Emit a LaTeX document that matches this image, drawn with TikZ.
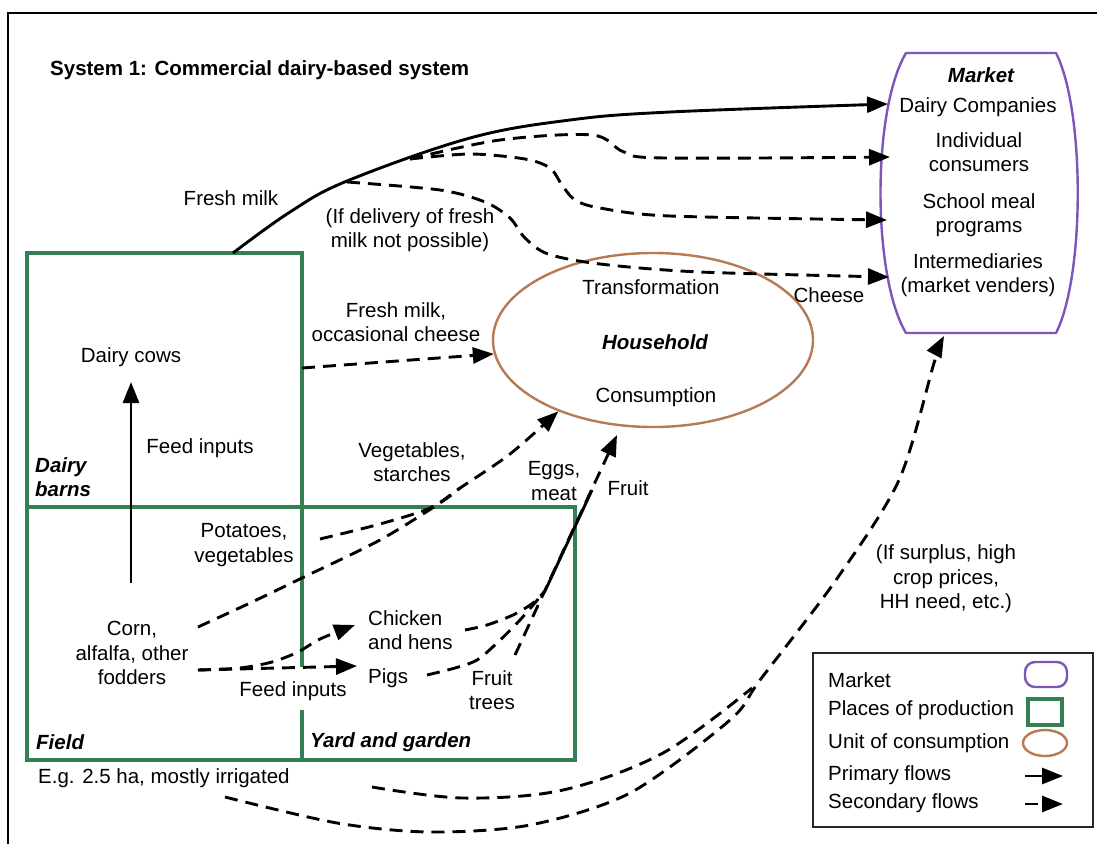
\documentclass[tikz,border=0pt]{standalone}
\usepackage{fontspec}
\setmainfont{Liberation Sans}
\usetikzlibrary{arrows.meta,shapes.geometric}
\definecolor{prodgreen}{RGB}{52,128,82}
\definecolor{mktpurple}{RGB}{124,86,184}
\definecolor{hhbrown}{RGB}{184,122,84}

\begin{document}
\begin{tikzpicture}[x=1pt,y=-1pt,
  every node/.style={font=\fontsize{20.5}{24.5}\selectfont, inner sep=0pt, align=center},
  bi/.style={font=\fontsize{20.5}{24.5}\selectfont\bfseries\itshape},
  tip/.style={-{Triangle[length=21pt,width=16pt]}},
  flowline/.style={line width=2.9pt},
  primary/.style={flowline, tip},
  secline/.style={flowline, dash pattern=on 13pt off 8pt},
  secondary/.style={secline, tip},
  prod/.style={draw=prodgreen, line width=3.6pt, line join=miter},
  mkt/.style={draw=mktpurple, line width=2.4pt, line cap=round, line join=round},
  hhstyle/.style={draw=hhbrown, line width=2.4pt}
]
\useasboundingbox (0,0) rectangle (1097,844);
\fill[white] (0,0) rectangle (1097,844);

% outer frame
\draw[line width=1.8pt] (8,844) -- (8,13) -- (1097,13);

% title
\node[anchor=west, font=\fontsize{20.5}{24.5}\selectfont\bfseries] (title) at (50,70)
  {System 1: Commercial dairy-based system};

% ---------------- market ----------------
\draw[mkt] (906,53) -- (1056,53) .. controls (1085,110) and (1085,276) .. (1056,333)
  -- (906,333) .. controls (872,276) and (872,110) .. (906,53);
\node[bi] (mkttitle) at (981,75) {Market};
\node (dairyco) at (978,107) {Dairy Companies};
\node (indiv) at (979,152) {Individual\\consumers};
\node (school) at (979,215) {School meal\\programs};
\node (inter) at (978,275) {Intermediaries\\(market venders)};
\coordinate (mk-dairy) at (888,104);
\coordinate (mk-indiv) at (890,157);
\coordinate (mk-school) at (887,220);
\coordinate (mk-inter) at (889,277);
\coordinate (mk-bottom) at (944,336);

% ---------------- household ----------------
\node[ellipse, hhstyle, minimum width=320pt, minimum height=174pt] (hh) at (653,340) {};
\node (transf) at (651,287) {Transformation};
\node[bi] (hhname) at (655,342) {Household};
\node (consum) at (656,397) {Consumption};
\coordinate (hh-fruit) at (617,435);

% ---------------- places of production ----------------
\draw[prod] (27,507) -- (27,253) -- (302,253) -- (302,667);
\draw[prod] (302,710) -- (302,760);
\draw[prod] (27,507) rectangle (575,760);

\node[bi, anchor=west, align=left] (barns) at (35,477) {Dairy\\barns};
\node[bi, anchor=west] (field) at (36,742) {Field};
\node[bi, anchor=west] (yard) at (310,742) {Yard and garden};
\node[anchor=west] (area) at (38,778) {E.g. 2.5 ha, mostly irrigated};

\node (cows) at (131,357) {Dairy cows};
\node (feed1) at (200,448) {Feed inputs};
\node (potatoes) at (244,545) {Potatoes,\\vegetables};
\node (corn) at (132,653) {Corn,\\alfalfa, other\\fodders};
\node[anchor=west, align=left] (chicken) at (368,630) {Chicken\\and hens};
\node[anchor=west] (pigs) at (368,678) {Pigs};
\node (trees) at (492,690) {Fruit\\trees};
\node (feed2) at (293,691) {Feed inputs};

% ---------------- flow labels ----------------
\node (freshmilk) at (231,198) {Fresh milk};
\node (ifdeliv) at (410,230) {(If delivery of fresh\\milk not possible)};
\node (cheese) at (829,295) {Cheese};
\node (milkcheese) at (396,322) {Fresh milk,\\occasional cheese};
\node (vegstarch) at (412,462) {Vegetables,\\starches};
\node (eggs) at (554,481) {Eggs,\\meat};
\node (fruit) at (628,488) {Fruit};
\node (surplus) at (946,579) {(If surplus, high\\crop prices,\\HH need, etc.)};

% ---------------- flows ----------------
% fresh milk to the dairy companies
\draw[primary] plot[smooth, tension=0.6] coordinates
  {(233,253) (290,212) (347,181) (470,138) (570,120) (670,112) (mk-dairy)};
% branches of the milk flow
\draw[secondary] plot[smooth, tension=0.55] coordinates
  {(410,159) (500,140) (592,135) (624,152) (665,158) (mk-indiv)};
\draw[secondary] plot[smooth, tension=0.5] coordinates
  {(410,159) (470,154) (525,159) (550,168) (562,185) (575,200) (600,208) (670,216) (mk-school)};
\draw[secondary] plot[smooth, tension=0.5] coordinates
  {(347,182) (440,190) (485,202) (510,218) (525,238) (548,254) (600,264) (700,272) (mk-inter)};

% dairy barns to household
\draw[secondary] (302,368) -- (hh.185);
% feed inputs to the cows
\draw[primary] (131,583) -- (131,382);

% vegetables and starches
\draw[secondary] plot[smooth, tension=0.5] coordinates
  {(320,539) (380,524) (430,508) (460,488) (510,454) (hh.217)};
\draw[secline] plot[smooth, tension=0.5] coordinates
  {(198,627) (250,603) (304,577) (380,540) (440,503) (460,488)};

% fodder to animals
\draw[secondary] (198,670) -- (357,666);
\draw[secondary] plot[smooth, tension=0.5] coordinates
  {(198,670) (240,668) (272,662) (298,652) (320,639) (355,625)};

% eggs, meat and fruit
\draw[secline] plot[smooth, tension=0.5] coordinates
  {(465,630) (487,625) (513,615) (533,603) (545,591)};
\draw[secline] plot[smooth, tension=0.5] coordinates
  {(427,675) (455,668) (477,660) (497,643) (520,620) (545,591)};
\draw[flowline] (545,591) -- (592,490);
\draw[secondary] (515,655) -- (hh-fruit);

% crop sales to the market
\draw[secondary] plot[smooth, tension=0.5] coordinates
  {(225,797) (337,823) (430,832) (530,825) (630,793) (730,720) (760,680) (836,580) (899,480) (934,363) (mk-bottom)};
\draw[secline] plot[smooth, tension=0.55] coordinates
  {(372,787) (463,798) (563,790) (663,753) (752,688)};

% ---------------- legend ----------------
\draw[line width=1.4pt, black!85] (813,653) rectangle (1093,827);
\node[anchor=west] (lg1) at (828,680) {Market};
\node[anchor=west] (lg2) at (828,710) {Places of production};
\node[anchor=west] (lg3) at (828,743) {Unit of consumption};
\node[anchor=west] (lg4) at (828,775) {Primary flows};
\node[anchor=west] (lg5) at (828,803) {Secondary flows};
\draw[mkt, rounded corners=10pt] (1025,662) rectangle (1067,687);
\draw[prod] (1028,699) rectangle (1062,725);
\draw[hhstyle] (1045,743) ellipse [x radius=22, y radius=13];
\draw[primary] (1025,776) -- (1063,776);
\draw[secondary] (1025,804) -- (1063,804);
\end{tikzpicture}
\end{document}
